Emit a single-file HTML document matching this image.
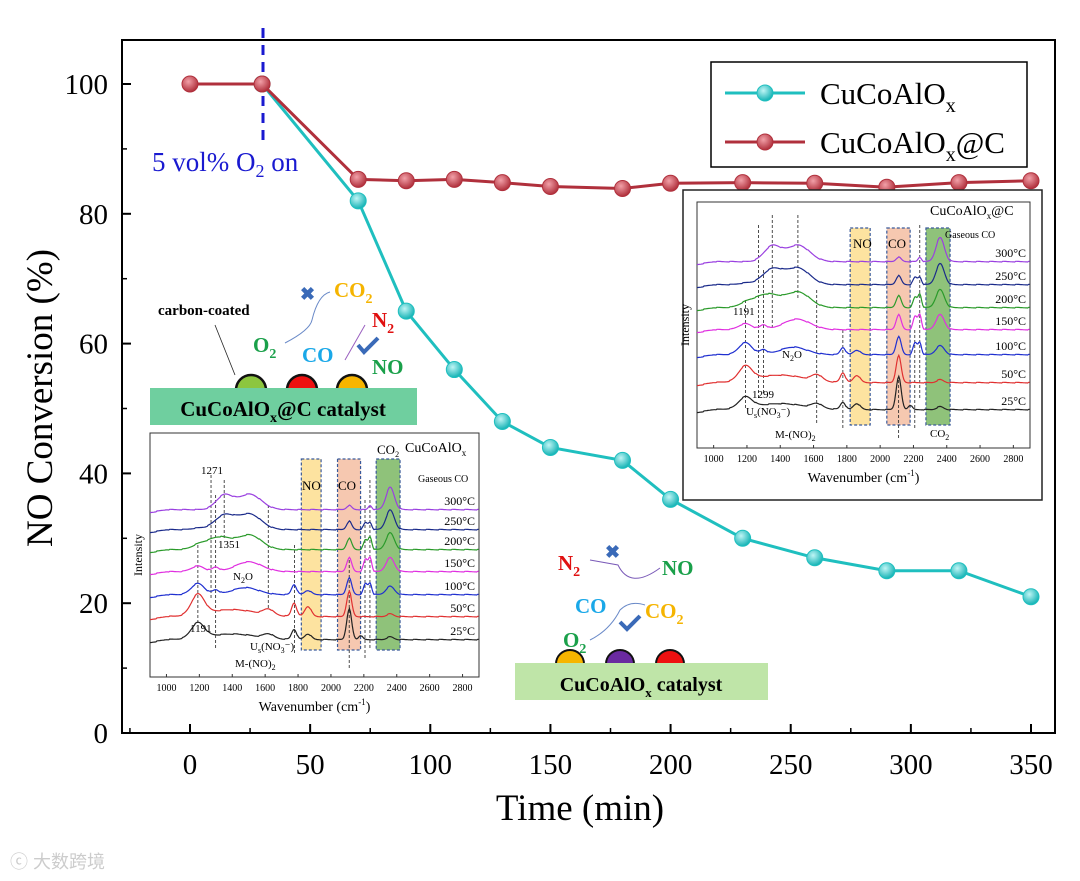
<!DOCTYPE html>
<html><head><meta charset="utf-8"><style>
body{margin:0;background:#fff}
svg{display:block;font-family:"Liberation Serif",serif}
</style></head><body>
<svg id="c" width="1080" height="881" viewBox="0 0 1080 881" xmlns="http://www.w3.org/2000/svg">
<defs>
<radialGradient id="gc" cx="40%" cy="35%" r="65%"><stop offset="0" stop-color="#bff5f5"/><stop offset="1" stop-color="#14b3b5"/></radialGradient>
<radialGradient id="gr" cx="40%" cy="35%" r="65%"><stop offset="0" stop-color="#f2a0a8"/><stop offset="1" stop-color="#b0303c"/></radialGradient>
</defs>
<g id="main"></g>
<g id="ins"></g>
</svg>
<script>
const times=[0,30,70,90,110,130,150,180,200,230,260,290,320,350];
const cuco=[100,100,82,65,56,48,44,42,36,30,27,25,25,21];
const cucoC=[100,100,85.3,85.1,85.3,84.8,84.2,83.9,84.7,84.8,84.7,84.1,84.8,85.1];
const xTicks=[0,50,100,150,200,250,300,350];
const yTicks=[0,20,40,60,80,100];
const NS="http://www.w3.org/2000/svg";
const X0=122,X1=1055,Y0=40,Y1=733;
const xs=t=>190+t*(1031-190)/350;
const ys=v=>733-v*6.49;
function el(tag,at,par,txt){const e=document.createElementNS(NS,tag);for(const k in at)e.setAttribute(k,at[k]);if(txt!==undefined)e.textContent=txt;(par||document.getElementById('main')).appendChild(e);return e;}
const M=document.getElementById('main');
let f=el('rect',{x:X0,y:Y0,width:X1-X0,height:Y1-Y0,fill:'none',stroke:'#000','stroke-width':2});


xTicks.forEach(t=>{const x=xs(t);el('line',{x1:x,y1:Y1,x2:x,y2:Y1-9,stroke:'#000','stroke-width':2});
 const tx=el('text',{x:x,y:Y1+41,'font-size':29,'text-anchor':'middle'},M,t);
 
 });
for(let t=-25;t<=350;t+=50){const x=xs(t);el('line',{x1:x,y1:Y1,x2:x,y2:Y1-5,stroke:'#000','stroke-width':1.5});}
yTicks.forEach(v=>{const y=ys(v);el('line',{x1:X0,y1:y,x2:X0+9,y2:y,stroke:'#000','stroke-width':2});
 const tx=el('text',{x:X0-14,y:y+10,'font-size':29,'text-anchor':'end'},M,v);
 
 });
for(let v=10;v<=100;v+=20){const y=ys(v);el('line',{x1:X0,y1:y,x2:X0+5,y2:y,stroke:'#000','stroke-width':1.5});}
let xl=el('text',{x:580,y:820,'font-size':37,'text-anchor':'middle'},M,'Time (min)');


let yl=el('text',{x:0,y:0,'font-size':37,'text-anchor':'middle',transform:'translate(52,398) rotate(-90)'},M,'NO Conversion (%)');


el('line',{x1:263,y1:28,x2:263,y2:140,stroke:'#1a1ad0','stroke-width':3,'stroke-dasharray':'10,7'});
let o2=el('text',{x:152,y:171,'font-size':27,fill:'#1a1ad0'},M);
o2.innerHTML='5 vol% O<tspan font-size="18" dy="6">2</tspan><tspan dy="-6"> on</tspan>';


function series(vals,col,grad,name,start){
 const pts=[];times.forEach((t,i)=>{if(i>=start)pts.push(xs(t)+','+ys(vals[i]));});
 const p=el('polyline',{points:pts.join(' '),fill:'none',stroke:col,'stroke-width':3});
 
 
 times.forEach((t,i)=>{if(i<start)return;const c=el('circle',{cx:xs(t),cy:ys(vals[i]),r:8,fill:'url(#'+grad+')',stroke:col,'stroke-width':1});
 
 });
}
let lg=el('rect',{x:711,y:62,width:316,height:105,fill:'#fff',stroke:'#000','stroke-width':1.5});


[['#1fbfbf','gc','CuCoAlO','',93],['#b0303c','gr','CuCoAlO','@C',142]].forEach(d=>{
 el('line',{x1:725,y1:d[4],x2:805,y2:d[4],stroke:d[0],'stroke-width':3});
 el('circle',{cx:765,cy:d[4],r:8,fill:'url(#'+d[1]+')',stroke:d[0]});
 const t=el('text',{x:820,y:d[4]+11,'font-size':31},M);
 t.innerHTML=d[2]+'<tspan font-size="20" dy="8">x</tspan><tspan dy="-8">'+d[3]+'</tspan>';
 
 
});
series(cuco,'#1fbfbf','gc','cucoalox',1);
series(cucoC,'#b0303c','gr','cucoalox-c',0);

const I=document.getElementById('ins');
const cols=['#222','#e03030','#2030d0','#e030e0','#2a9a2a','#1a2a8a','#9a40e0'];
const temps=['25°C','50°C','100°C','150°C','200°C','250°C','300°C'];
function inset(o){
 const g=el('g',{},I);
 
 
 const wx=w=>o.x0+(w-900)*(o.x1-o.x0)/2000;
 if(o.outer)el('rect',{x:o.outer[0],y:o.outer[1],width:o.outer[2],height:o.outer[3],fill:'#fff',stroke:'#222','stroke-width':1.5},g);
 el('rect',{x:o.x0,y:o.y0,width:o.x1-o.x0,height:o.y1-o.y0,fill:'#fff',stroke:'#333','stroke-width':1},g);
 [[1820,1940,'#fde3a0'],[2040,2180,'#f6c8b0'],[2275,2420,'#8fc27a']].forEach(b=>{
  el('rect',{x:wx(b[0]),y:o.by0,width:wx(b[1])-wx(b[0]),height:o.by1-o.by0,fill:b[2],stroke:'#3a5a9a','stroke-dasharray':'3,2','stroke-width':1.2},g);});
 for(let w=1000;w<=2800;w+=200){el('line',{x1:wx(w),y1:o.y1,x2:wx(w),y2:o.y1-3,stroke:'#333'},g);
  el('text',{x:wx(w),y:o.y1+14,'font-size':10,'text-anchor':'middle'},g,w);}
 const wl=el('text',{x:(o.x0+o.x1)/2,y:o.y1+34,'font-size':14,'text-anchor':'middle'},g);
 wl.innerHTML='Wavenumber (cm<tspan font-size="9" dy="-6">-1</tspan><tspan dy="6">)</tspan>';
 el('text',{x:0,y:0,'font-size':12,'text-anchor':'middle',transform:'translate('+(o.x0-8)+','+((o.y0+o.y1)/2)+') rotate(-90)'},g,'Intensity');
 o.marks.forEach(m=>{el('line',{x1:wx(m[0]),y1:m[1],x2:wx(m[0]),y2:m[2],stroke:'#222','stroke-dasharray':'3,2','stroke-width':0.8},g);});
 o.base.forEach((b,i)=>{
  let d='';
  for(let w=900;w<=2900;w+=6){
   let v=0;o.peaks[i].forEach(p=>{v+=o.k*p[1]*Math.exp(-((w-p[0])**2)/(2*p[2]*p[2]));});
   v+=((w*7919)%13)/13*0.8+(w<1000?-(1000-w)*0.03:0);
   d+=(w===900?'M':'L')+wx(w).toFixed(1)+','+(b-v).toFixed(1);}
  el('path',{d:d,fill:'none',stroke:cols[i],'stroke-width':1.2},g);
  el('text',{x:o.x1-4,y:b-5,'font-size':12,'text-anchor':'end'},g,temps[i]);
 });
 o.labels.forEach(l=>{const t=el('text',{x:l[0],y:l[1],'font-size':l[3]||11},g);t.innerHTML=l[2];});
}
const common=(s)=>[
 [[1191,9*s,40],[1400,4,150],[1620,3,30],[1776,6*s,15],[1860,4,20],[2111,22,15],[2180,3,12],[2360,2,20]],
 [[1191,12*s,40],[1400,5,150],[1620,4,30],[1776,8*s,15],[1860,6*s,20],[2111,18,15],[2360,2,20]],
 [[1191,8,40],[1300,3,20],[1480,5,80],[1776,6*s,15],[1860,3,20],[2111,12,15],[2210,8,12],[2238,8,10],[2360,6,25]],
 [[1191,4,40],[1300,3,20],[1500,7,80],[2111,10,15],[2210,9,12],[2238,10,10],[2360,10,25]],
 [[1191,2,40],[1320,9,80],[1510,10,70],[2111,8,15],[2210,7,12],[2238,9,10],[2360,12,25]],
 [[1191,1,40],[1352,10,60],[1506,11,70],[2111,6,15],[2210,5,12],[2238,5,10],[2360,14,25]],
 [[1352,10,50],[1506,11,70],[2111,3,15],[2238,3,10],[2360,16,25]]];
inset({name:'inset-cucoalox-c',k:1.5,x0:697,x1:1030,y0:202,y1:448,by0:228,by1:425,outer:[683,190,359,310],
 base:[410,383,355,330,308,285,262],peaks:common(0.8),
 marks:[[1191,300,410],[1270,225,400],[1299,270,395],[1352,215,330],[1506,215,300],[1619,290,425],[1776,330,430],[2111,380,440],[2208,330,430],[2238,225,400]],
 labels:[[930,215,'CuCoAlO<tspan font-size="9" dy="4">x</tspan><tspan dy="-4">@C</tspan>',14],[945,238,'Gaseous CO',10],[853,248,'NO',13],[888,248,'CO',13],[930,437,'CO<tspan font-size="8" dy="3">2</tspan>'],[782,358,'N<tspan font-size="8" dy="3">2</tspan><tspan dy="-3">O</tspan>'],[746,415,'U<tspan font-size="8" dy="3">s</tspan><tspan dy="-3">(NO</tspan><tspan font-size="8" dy="3">3</tspan><tspan dy="-3">⁻)</tspan>'],[775,438,'M-(NO)<tspan font-size="8" dy="3">2</tspan>'],[733,315,'1191'],[752,398,'1299']]});
inset({name:'inset-cucoalox',k:1.4,x0:150,x1:479,y0:433,y1:677,by0:459,by1:650,
 base:[640,617,595,572,550,530,510],peaks:common(1.2),
 marks:[[1191,545,625],[1271,475,600],[1299,495,650],[1351,480,540],[1619,505,610],[1778,545,655],[2111,560,670],[2207,500,660],[2237,480,650]],
 labels:[[405,452,'CuCoAlO<tspan font-size="9" dy="4">x</tspan>',14],[377,454,'CO<tspan font-size="8" dy="3">2</tspan>',13],[418,482,'Gaseous CO',10],[302,490,'NO',13],[338,490,'CO',13],[233,580,'N<tspan font-size="8" dy="3">2</tspan><tspan dy="-3">O</tspan>'],[250,650,'U<tspan font-size="8" dy="3">s</tspan><tspan dy="-3">(NO</tspan><tspan font-size="8" dy="3">3</tspan><tspan dy="-3">⁻)</tspan>'],[235,667,'M-(NO)<tspan font-size="8" dy="3">2</tspan>'],[190,632,'1191'],[201,474,'1271'],[218,548,'1351']]});

function schem(){
 const g=el('g',{},I);
 
 
 [[251,'#8cc63f'],[302,'#ee1111'],[352,'#f7b500']].forEach(c=>el('circle',{cx:c[0],cy:390,r:15,fill:c[1],stroke:'#111','stroke-width':2.5},g));
 el('rect',{x:150,y:388,width:267,height:37,fill:'#6fcf9f'},g);
 let t=el('text',{x:283,y:416,'font-size':21,'font-weight':'bold','text-anchor':'middle'},g);
 t.innerHTML='CuCoAlO<tspan font-size="14" dy="6">x</tspan><tspan dy="-6">@C catalyst</tspan>';
 el('text',{x:158,y:315,'font-size':15,'font-weight':'bold'},g,'carbon-coated');
 el('line',{x1:235,y1:375,x2:215,y2:325,stroke:'#222','stroke-width':0.8},g);
 t=el('text',{x:253,y:352,'font-size':21,'font-weight':'bold',fill:'#1aa04a'},g);t.innerHTML='O<tspan font-size="14" dy="6">2</tspan>';
 el('text',{x:302,y:362,'font-size':21,'font-weight':'bold',fill:'#1aa8e8'},g,'CO');
 el('text',{x:372,y:374,'font-size':21,'font-weight':'bold',fill:'#1aa04a'},g,'NO');
 t=el('text',{x:334,y:297,'font-size':21,'font-weight':'bold',fill:'#f5b400'},g);t.innerHTML='CO<tspan font-size="14" dy="6">2</tspan>';
 t=el('text',{x:372,y:327,'font-size':21,'font-weight':'bold',fill:'#e01010'},g);t.innerHTML='N<tspan font-size="14" dy="6">2</tspan>';
 el('text',{x:300,y:300,'font-size':18,fill:'#3a6ab8','font-weight':'bold'},g,'✖');
 el('path',{d:'M285,343 Q310,330 312,320 Q318,295 330,292',fill:'none',stroke:'#6a8ac8','stroke-width':1},g);
 el('path',{d:'M345,360 L365,325',fill:'none',stroke:'#9a60c0','stroke-width':1},g);
 el('path',{d:'M358,345 L364,352 L378,338',fill:'none',stroke:'#3a6ab8','stroke-width':4},g);
 [[570,'#f7b500'],[620,'#6a2aa0'],[670,'#ee1111']].forEach(c=>el('circle',{cx:c[0],cy:664,r:14,fill:c[1],stroke:'#111','stroke-width':2},g));
 el('rect',{x:515,y:663,width:253,height:37,fill:'#bfe5a8'},g);
 t=el('text',{x:641,y:691,'font-size':20,'font-weight':'bold','text-anchor':'middle'},g);
 t.innerHTML='CuCoAlO<tspan font-size="13" dy="6">x</tspan><tspan dy="-6"> catalyst</tspan>';
 t=el('text',{x:558,y:570,'font-size':21,'font-weight':'bold',fill:'#e01010'},g);t.innerHTML='N<tspan font-size="14" dy="6">2</tspan>';
 el('text',{x:605,y:558,'font-size':18,fill:'#3a6ab8','font-weight':'bold'},g,'✖');
 el('text',{x:662,y:575,'font-size':21,'font-weight':'bold',fill:'#1aa04a'},g,'NO');
 el('text',{x:575,y:613,'font-size':21,'font-weight':'bold',fill:'#1aa8e8'},g,'CO');
 t=el('text',{x:645,y:618,'font-size':21,'font-weight':'bold',fill:'#f5b400'},g);t.innerHTML='CO<tspan font-size="14" dy="6">2</tspan>';
 t=el('text',{x:563,y:647,'font-size':21,'font-weight':'bold',fill:'#1aa04a'},g);t.innerHTML='O<tspan font-size="14" dy="6">2</tspan>';
 el('path',{d:'M660,568 Q630,590 618,565 L590,560',fill:'none',stroke:'#7a5ab8','stroke-width':1},g);
 el('path',{d:'M590,640 Q610,630 620,610 Q630,600 645,605',fill:'none',stroke:'#6a8ac8','stroke-width':1},g);
 el('path',{d:'M620,622 L627,629 L640,616',fill:'none',stroke:'#3a6ab8','stroke-width':4},g);
}
schem();
const wm=el('text',{x:10,y:868,'font-size':18,fill:'#ccc','font-family':'"Liberation Sans","Noto Sans CJK SC",sans-serif'},I,'ⓒ 大数跨境');


</script>
</body></html>
